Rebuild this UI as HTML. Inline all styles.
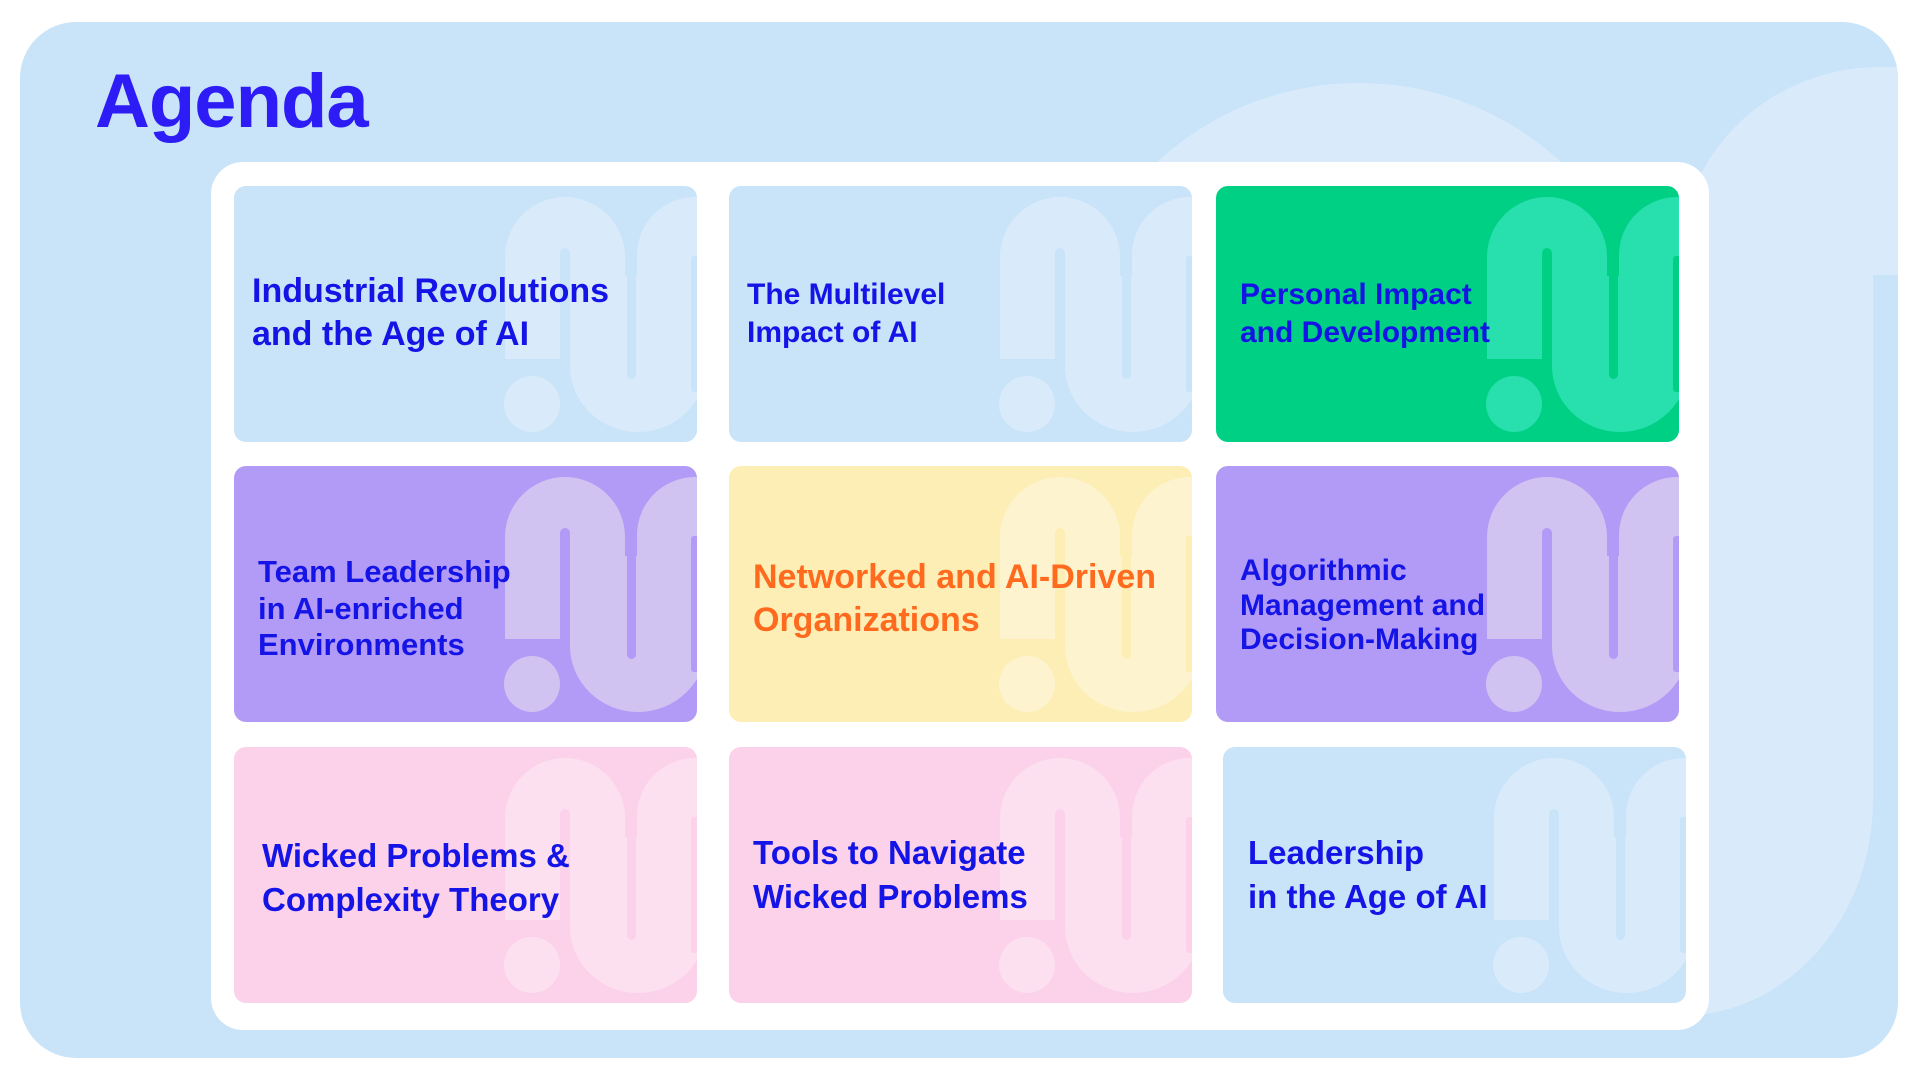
<!DOCTYPE html>
<html><head><meta charset="utf-8"><style>
*{margin:0;padding:0;box-sizing:border-box}
body{width:1920px;height:1080px;background:#fff;position:relative;overflow:hidden;font-family:"Liberation Sans",Arial,sans-serif}
.outer{position:absolute;left:20px;top:22px;width:1878px;height:1036px;border-radius:56px;background:#c9e3f8;overflow:hidden}
.title{position:absolute;left:95px;top:64px;font-size:76px;font-weight:bold;color:#2d1cf5;letter-spacing:-1px;line-height:1}
.panel{position:absolute;left:211px;top:162px;width:1498px;height:868px;border-radius:32px;background:#fff}
.card{position:absolute;width:463px;height:256px;border-radius:12px;overflow:hidden}
.card svg{position:absolute;left:0;top:0}
.t{position:absolute;font-weight:bold;color:#1414e6;line-height:1}
.t div{white-space:nowrap}
</style></head><body>
<div class="outer">
 <svg width="1920" height="1080" style="position:absolute;left:-20px;top:-22px">
  <circle cx="1359" cy="381" r="298" fill="#d9ebfb"/>
  <path d="M1680,1016 V260 A200,193 0 0 1 1880,67 H1900 V275 H1873 V800 A193,216 0 0 1 1680,1016 Z" fill="#d9ebfb"/>
 </svg>
</div>
<div class="title">Agenda</div>
<div class="panel"></div>

<div class="card" style="left:234px;top:186px;background:#c9e3f8"></div>
<div class="card" style="left:729px;top:186px;background:#c9e3f8"></div>
<div class="card" style="left:1216px;top:186px;background:#00d084"></div>
<div class="card" style="left:234px;top:466px;background:#b29af7"></div>
<div class="card" style="left:729px;top:466px;background:#fdeeb6"></div>
<div class="card" style="left:1216px;top:466px;background:#b29af7"></div>
<div class="card" style="left:234px;top:747px;background:#fcd1ea"></div>
<div class="card" style="left:729px;top:747px;background:#fcd1ea"></div>
<div class="card" style="left:1223px;top:747px;background:#c9e3f8"></div>

<script>
var cards=document.querySelectorAll('.card');
var cols=[["#c9e3f8","#d9ebfb"],["#c9e3f8","#d9ebfb"],["#00d084","#27e0ad"],["#b29af7","#d0c3f1"],["#fdeeb6","#fdf4cf"],["#b29af7","#d0c3f1"],["#fcd1ea","#fde0f0"],["#fcd1ea","#fde0f0"],["#c9e3f8","#d9ebfb"]];
cards.forEach(function(c,i){
 var b=cols[i][0],l=cols[i][1];
 c.innerHTML='<svg width="463" height="256">'+
 '<g fill="'+l+'">'+
 '<path d="M271,173 V71 A60,60 0 0 1 391,71 V173 Z"/>'+
 '<path d="M336,90 H472 V180 A68,66 0 0 1 336,180 Z"/>'+
 '<path d="M403,200 V69 A58,58 0 0 1 519,69 V200 Z"/>'+
 '<circle cx="298" cy="218" r="28"/></g>'+
 '<g fill="'+b+'">'+
 '<rect x="326" y="62" width="10" height="111" rx="5"/>'+
 '<rect x="326" y="150" width="10" height="23"/>'+
 '<rect x="393" y="60" width="9" height="133" rx="4.5"/>'+
 '<rect x="457" y="70" width="8" height="136" rx="3"/>'+
 '</g></svg>';
});
</script>

<div class="t" style="left:252px;top:270px;font-size:34px;line-height:43px"><div>Industrial Revolutions</div><div>and the Age of AI</div></div>
<div class="t" style="left:747px;top:276px;font-size:30px;line-height:38px"><div>The Multilevel</div><div>Impact of AI</div></div>
<div class="t" style="left:1240px;top:276px;font-size:30px;line-height:38px"><div>Personal Impact</div><div>and Development</div></div>
<div class="t" style="left:258px;top:554px;font-size:31px;line-height:36.5px"><div>Team Leadership</div><div>in AI-enriched</div><div>Environments</div></div>
<div class="t" style="left:753px;top:556px;font-size:34px;line-height:43px;color:#ff6a1f"><div>Networked and AI-Driven</div><div>Organizations</div></div>
<div class="t" style="left:1240px;top:554px;font-size:30px;line-height:34.5px"><div>Algorithmic</div><div>Management and</div><div>Decision-Making</div></div>
<div class="t" style="left:262px;top:834px;font-size:33px;line-height:44px"><div>Wicked Problems &amp;</div><div>Complexity Theory</div></div>
<div class="t" style="left:753px;top:831px;font-size:33px;line-height:44px"><div>Tools to Navigate</div><div>Wicked Problems</div></div>
<div class="t" style="left:1248px;top:831px;font-size:33px;line-height:44px"><div>Leadership</div><div>in the Age of AI</div></div>
</body></html>
